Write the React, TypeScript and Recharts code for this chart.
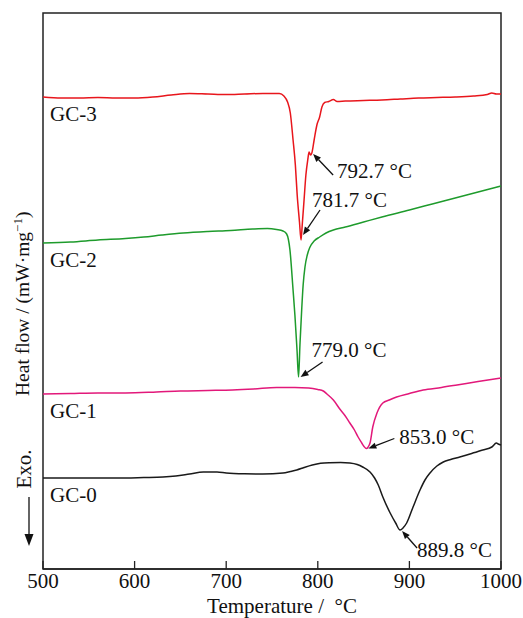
import { LineChart, Line, XAxis, YAxis, ReferenceDot, ReferenceArea, Label } from "recharts";

// temperature ticks (°C)
const tempTicks = [500, 600, 700, 800, 900, 1000];

// heat flow in arbitrary units (curves are offset vertically)
const gc3Temp = [500, 520, 540, 560, 580, 600, 620, 640, 660, 680, 700, 720, 740, 758, 763, 767, 770, 773, 775.5, 777.5, 780, 781.7, 783, 785, 787, 789, 790.5, 792, 793.5, 796, 799, 802, 804.5, 807.5, 812, 817, 821, 830, 850, 870, 890, 910, 930, 950, 970, 985, 990, 995, 1000];
const gc3Flow = [472, 471, 471, 471.5, 471, 471, 472, 474, 475.5, 475, 474.5, 475, 475.5, 475.5, 473, 467, 456, 429, 404, 374, 347, 329, 344, 369, 394, 409, 417, 414, 416, 429, 444, 452, 462, 466.5, 467.5, 469.5, 467.5, 468, 468.5, 469, 470, 471, 471.5, 472, 473, 474.5, 476, 475, 475];

const gc2Temp = [500, 530, 560, 590, 610, 630, 653, 680, 705, 729, 745, 755, 762, 766, 769.6, 773, 775, 777.3, 779, 780.5, 782.4, 784, 786, 788.5, 791.5, 796, 802, 809, 817, 830, 850, 870, 900, 925, 950, 975, 1000];
const gc2Flow = [326, 327, 329, 330.5, 332, 334, 336, 337.5, 338.5, 340, 340.5, 339.5, 338, 335, 319, 279, 254, 219, 192, 224, 259, 284, 302, 314, 322, 328, 332, 336, 339, 342, 347, 352, 359, 365, 371, 377, 383];

const gc1Temp = [500, 530, 560, 590, 624, 650, 680, 707, 730, 755, 775, 790, 800, 806, 810, 817, 824, 830, 835, 840, 844, 848, 850.5, 853, 855, 857, 860, 864.6, 871, 878, 886, 900, 915, 935, 952, 975, 1000];
const gc1Flow = [175, 175.5, 176, 176, 177, 178, 178.5, 179, 180, 181.5, 181.5, 181, 179.5, 178, 175, 169, 160, 153, 146, 139, 132, 126, 122.5, 120.5, 122, 126, 142, 156, 166, 169, 172, 175.5, 179, 181.5, 184, 187.5, 191];

const gc0Temp = [500, 540, 580, 610, 631, 645, 660, 675, 690, 700, 720, 740, 762, 770, 777, 785, 794, 803, 813, 825, 835, 843, 849, 857, 862, 866, 871, 879, 885, 889.8, 893, 897, 904, 911.6, 917, 922.5, 930, 937, 945, 955, 968, 980, 990, 995, 997, 1000];
const gc0Flow = [91, 91, 91, 91.5, 92, 93, 95, 97, 97, 96, 95.2, 95, 96, 97.5, 99, 101.5, 104, 105.7, 106.3, 106.5, 106, 104.5, 102, 97, 91, 84, 72, 56, 46, 39, 41, 46, 62, 79, 89, 96, 103, 107, 109.5, 112, 115.5, 119, 122, 126, 125, 124];

const seriesNames = ["GC-3", "GC-2", "GC-1", "GC-0"];
const seriesColors = ["#e8161c", "#1e9b2c", "#e2187a", "#1a1a1a"];

// peak / shoulder temperatures marked with arrows
const peakTemps = [792.7, 781.7, 779.0, 853.0, 889.8];
const peakFlows = [416, 329, 192, 120.5, 39];

// arrow + text offsets (px) relative to each marked point
const peakLayout = [
  { tip: [2, 1], tail: [22, 22], text: [26, 25] },
  { tip: [2, -5], tail: [19, -30], text: [11, -33] },
  { tip: [2, 0], tail: [24, -15], text: [13, -20] },
  { tip: [2, 0], tail: [28, -10], text: [33, -5] },
  { tip: [2, 1], tail: [17, 18], text: [17, 27] },
];

const FONT = "Liberation Serif, Tinos, Times New Roman, serif";
const txt = { fontFamily: FONT, fontSize: 21, fill: "#111" };

const rows = (t: number[], v: number[]) => t.map((x, i) => ({ t: x, v: v[i] }));
const series = [rows(gc3Temp, gc3Flow), rows(gc2Temp, gc2Flow), rows(gc1Temp, gc1Flow), rows(gc0Temp, gc0Flow)];

const Arrow = ({ x1, y1, x2, y2, L = 8, W = 3.2 }: { x1: number; y1: number; x2: number; y2: number; L?: number; W?: number }) => {
  const a = Math.atan2(y2 - y1, x2 - x1);
  const bx = x2 - L * Math.cos(a);
  const by = y2 - L * Math.sin(a);
  const pts = `${x2},${y2} ${bx - W * Math.sin(a)},${by + W * Math.cos(a)} ${bx + W * Math.sin(a)},${by - W * Math.cos(a)}`;
  return (
    <g>
      <line x1={x1} y1={y1} x2={bx} y2={by} stroke="#111" strokeWidth={1.3} />
      <polygon points={pts} fill="#111" />
    </g>
  );
};

// axis titles, drawn together from the x axis label slot
const Titles = () => (
  <g>
    <text x={282} y={613} textAnchor="middle" style={txt}>
      Temperature / {"\u00a0"}°C
    </text>
    <text x={29} y={396} transform="rotate(-90, 29, 396)" textAnchor="start" style={{ ...txt, fontSize: 19.5 }}>
      Heat flow / (mW·mg
      <tspan dy={-7} style={{ fontSize: 13 }}>−1</tspan>
      <tspan dy={7}>)</tspan>
    </text>
    <text x={31} y={469} transform="rotate(-90, 31, 469)" textAnchor="middle" style={txt}>
      Exo.
    </text>
    <Arrow x1={29} y1={497} x2={29} y2={546} L={12} W={4.5} />
  </g>
);

export default function App() {
  return (
    <div style={{ position: "absolute", left: 0, top: 0, background: "#fff", fontFamily: FONT }}>
      <LineChart width={523} height={618} margin={{ top: 13, right: 22, bottom: 0, left: 43 }}>
        <XAxis
          dataKey="t"
          type="number"
          domain={[500, 1000]}
          ticks={tempTicks}
          interval={0}
          allowDuplicatedCategory={false}
          height={49}
          tickSize={-8}
          tickMargin={12}
          axisLine={{ stroke: "#222", strokeWidth: 1.5 }}
          tickLine={{ stroke: "#222", strokeWidth: 1.3 }}
          tick={{ style: txt, fontFamily: FONT, fontSize: 21, fill: "#111" }}
        >
          <Label content={() => <Titles />} />
        </XAxis>
        <YAxis type="number" domain={[0, 556]} width={0} tick={false} tickLine={false} axisLine={false} />

        <ReferenceArea x1={500} x2={1000} y1={0} y2={556} fill="none" stroke="#222" strokeWidth={1.5} />

        {series.map((d, i) => (
          <Line key={seriesNames[i]} data={d} dataKey="v" type="monotone" stroke={seriesColors[i]} strokeWidth={1.5} dot={false} isAnimationActive={false} />
        ))}

        {series.map((d, i) => (
          <ReferenceDot
            key={"lbl" + i}
            x={d[0].t}
            y={d[0].v}
            r={0}
            shape={(p: any) => (
              <text x={p.cx + 7} y={p.cy + 24} style={txt}>
                {seriesNames[i]}
              </text>
            )}
          />
        ))}

        {peakTemps.map((t, i) => {
          const lay = peakLayout[i];
          return (
            <ReferenceDot
              key={"pk" + i}
              x={t}
              y={peakFlows[i]}
              r={0}
              shape={(p: any) => (
                <g>
                  <Arrow x1={p.cx + lay.tail[0]} y1={p.cy + lay.tail[1]} x2={p.cx + lay.tip[0]} y2={p.cy + lay.tip[1]} />
                  <text x={p.cx + lay.text[0]} y={p.cy + lay.text[1]} style={txt}>
                    {t.toFixed(1)} °C
                  </text>
                </g>
              )}
            />
          );
        })}
      </LineChart>
    </div>
  );
}
